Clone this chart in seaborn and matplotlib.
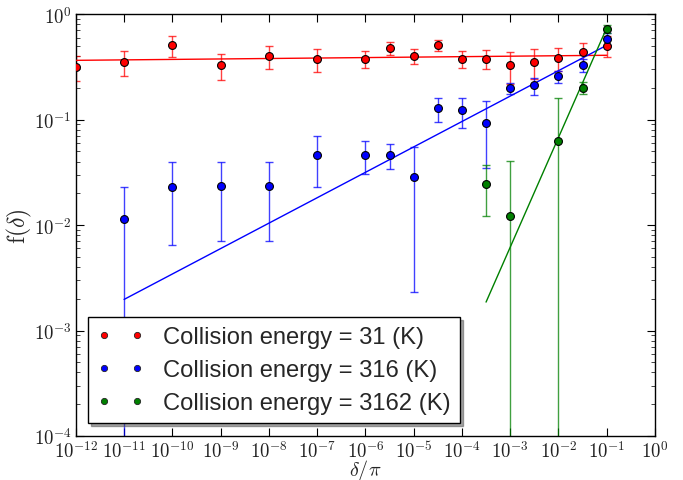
import numpy as np
import pandas as pd
import matplotlib
matplotlib.use("Agg")
import matplotlib.pyplot as plt
from matplotlib.lines import Line2D
import seaborn as sns

# ---- data ----
labels = ["Collision energy = 31 (K)", "Collision energy = 316 (K)", "Collision energy = 3162 (K)"]
colors = ["#ff0000", "#0000ff", "#008000"]

red_x = [1e-12, 1e-11, 1e-10, 1e-9, 1e-8, 1e-7, 1e-6, 3.16e-6, 1e-5, 3.16e-5,
         1e-4, 3.16e-4, 1e-3, 3.16e-3, 1e-2, 3.16e-2, 1e-1]
red_y = [0.316, 0.354, 0.507, 0.327, 0.404, 0.378, 0.378, 0.478, 0.404, 0.507,
         0.378, 0.378, 0.327, 0.354, 0.384, 0.44, 0.502]
red_err = [0.083, 0.096, 0.113, 0.091, 0.100, 0.094, 0.071, 0.070, 0.067, 0.062,
           0.071, 0.079, 0.110, 0.111, 0.092, 0.097, 0.112]

blue_x = [1e-11, 1e-10, 1e-9, 1e-8, 1e-7, 1e-6, 3.16e-6, 1e-5, 3.16e-5,
          1e-4, 3.16e-4, 1e-3, 3.16e-3, 1e-2, 3.16e-2, 1e-1]
blue_y = [0.0115, 0.023, 0.0235, 0.0235, 0.0464, 0.0464, 0.0464, 0.0288, 0.128,
          0.123, 0.0929, 0.199, 0.211, 0.257, 0.329, 0.582]
blue_err = [0.0117, 0.0165, 0.0165, 0.0165, 0.0234, 0.016, 0.0127, 0.0265, 0.034,
            0.039, 0.058, 0.025, 0.038, 0.035, 0.049, 0.075]

green_x = [3.16e-4, 1e-3, 1e-2, 3.16e-2, 1e-1]
green_y = [0.0247, 0.0123, 0.0621, 0.2, 0.719]
green_err = [0.0124, 0.028, 0.098, 0.025, 0.062]

# power-law fits f = A * delta^B
fit_A = [0.4115, 0.883, 8.13]
fit_B = [0.00436, 0.241, 1.04]

xtick_vals = [1e-12, 1e-11, 1e-10, 1e-9, 1e-8, 1e-7, 1e-6, 1e-5, 1e-4, 1e-3, 1e-2, 1e-1, 1e0]
ytick_vals = [1e-4, 1e-3, 1e-2, 1e-1, 1e0]

# ---- style ----
sns.set_style("ticks")
plt.rcParams["font.family"] = ["Liberation Sans", "DejaVu Sans"]
plt.rcParams["mathtext.fontset"] = "cm"
plt.rcParams["xtick.direction"] = "in"
plt.rcParams["ytick.direction"] = "in"
plt.rcParams["xtick.top"] = True
plt.rcParams["ytick.right"] = True

fig = plt.figure(figsize=(6.83, 4.81), dpi=100)
ax = fig.add_axes([0.111, 0.0915, 0.848, 0.877])

series = [(red_x, red_y, red_err), (blue_x, blue_y, blue_err), (green_x, green_y, green_err)]
for i, (xs, ys, es) in enumerate(series):
    c = colors[i]
    ax.errorbar(xs, ys, yerr=es, fmt="none", ecolor=c, elinewidth=1.0,
                capsize=3, capthick=1.0, alpha=0.75, zorder=2)
    df = pd.DataFrame({"x": xs, "y": ys})
    sns.scatterplot(data=df, x="x", y="y", ax=ax, color=c, s=32,
                    edgecolor="black", linewidth=0.8, zorder=4, legend=False)
    fx = np.logspace(np.log10(min(xs)), np.log10(max(xs)), 50)
    fdf = pd.DataFrame({"x": fx, "y": fit_A[i] * fx ** fit_B[i]})
    sns.lineplot(data=fdf, x="x", y="y", ax=ax, color=c, linewidth=1.0,
                 zorder=3, legend=False)

ax.set_xscale("log")
ax.set_yscale("log")
ax.set_xlim(1e-12, 1e0)
ax.set_ylim(1e-4, 1e0)
ax.set_xticks(xtick_vals)
ax.set_xticklabels([r"$10^{%d}$" % int(round(np.log10(v))) for v in xtick_vals])
ax.xaxis.set_minor_locator(matplotlib.ticker.NullLocator())
ax.set_yticks(ytick_vals)
ax.set_yticklabels([r"$10^{%d}$" % int(round(np.log10(v))) for v in ytick_vals])
ax.yaxis.set_minor_locator(matplotlib.ticker.LogLocator(base=10, subs=np.arange(2, 10) * 1.0, numticks=20))
ax.yaxis.set_minor_formatter(matplotlib.ticker.NullFormatter())
ax.tick_params(axis="both", which="major", labelsize=13.5, length=6, width=0.8,
               colors="black", labelcolor="#222222", pad=3)
ax.tick_params(axis="both", which="minor", length=3, width=0.6)
for sp in ax.spines.values():
    sp.set_color("black")
    sp.set_linewidth(1.0)

ax.set_xlabel(r"$\delta/\pi$", fontsize=14.5)
ax.xaxis.set_label_coords(0.5, -0.08)
ax.xaxis.label.set_va("center")
ax.set_ylabel(r"$\mathrm{f}(\delta)$", fontsize=17)
ax.yaxis.set_label_coords(-0.098, 0.5)
ax.yaxis.label.set_va("center")

handles = [Line2D([0], [0], marker="o", linestyle="none", markerfacecolor=c,
                  markeredgecolor="#222222", markersize=4.5, markeredgewidth=0.6) for c in colors]
leg = ax.legend(handles, labels, loc="lower left", bbox_to_anchor=(0.0207, 0.03),
                numpoints=2, fontsize=17.1, frameon=True, fancybox=False, shadow=True,
                handlelength=2.0, handletextpad=0.8, borderpad=0.38, labelspacing=0.47,
                borderaxespad=0.0)
leg.get_frame().set_edgecolor("black")
leg.get_frame().set_linewidth(1.0)
leg.get_frame().set_alpha(1)

fig.savefig("out.png", dpi=100)
